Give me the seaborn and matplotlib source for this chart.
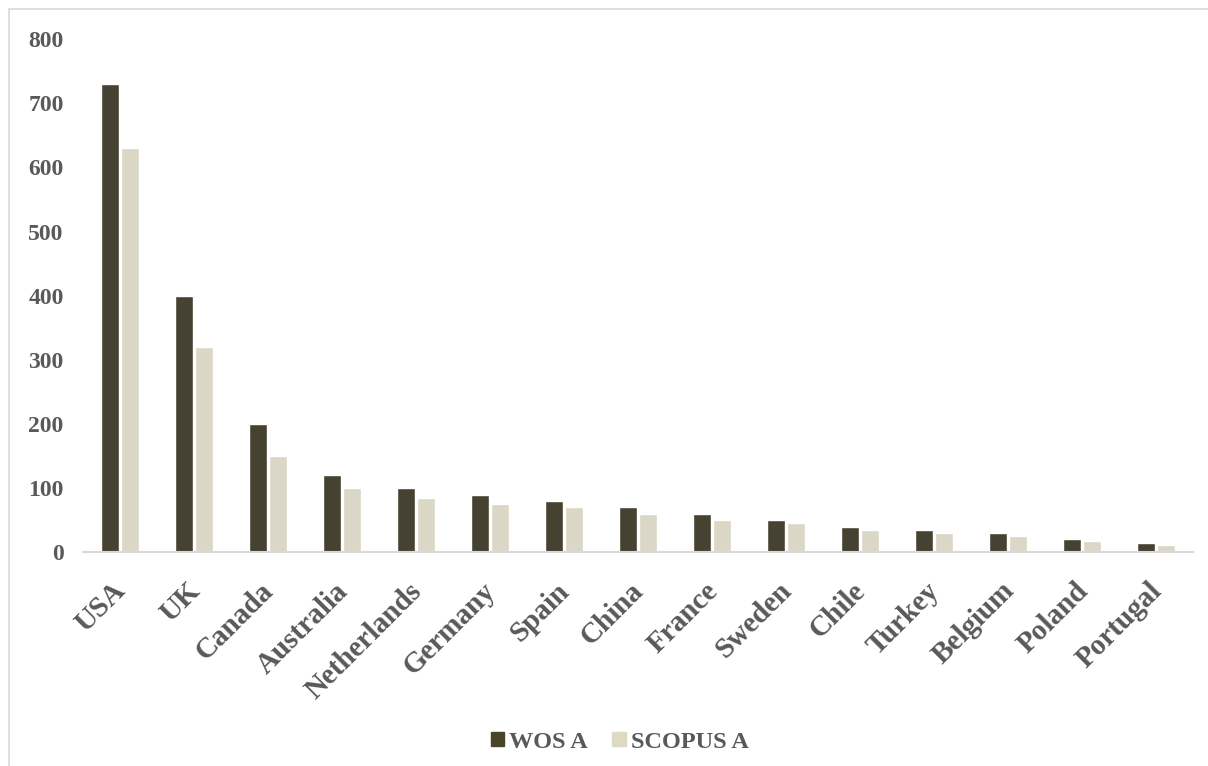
import pandas as pd
import matplotlib.pyplot as plt
import seaborn as sns
from matplotlib.patches import Rectangle
from matplotlib.transforms import ScaledTranslation

countries = ["USA", "UK", "Canada", "Australia", "Netherlands", "Germany", "Spain",
             "China", "France", "Sweden", "Chile", "Turkey", "Belgium", "Poland", "Portugal"]
wos_a = [730, 400, 200, 120, 100, 90, 80, 70, 60, 50, 40, 35, 30, 20, 15]
scopus_a = [630, 320, 150, 100, 85, 75, 70, 60, 50, 45, 35, 30, 25, 17, 11]
y_ticks = [0, 100, 200, 300, 400, 500, 600, 700, 800]

# long format for seaborn
df = pd.DataFrame({
    "country": countries * 2,
    "count": wos_a + scopus_a,
    "source": ["WOS A"] * len(countries) + ["SCOPUS A"] * len(countries),
})

sns.set_style("white")
plt.rcParams["font.family"] = ["Liberation Serif", "DejaVu Serif"]
plt.rcParams["font.weight"] = "bold"

text_col = "#595959"
palette = {"WOS A": "#4A442D", "SCOPUS A": "#DDD9C3"}

fig = plt.figure(figsize=(12.08, 7.66), dpi=100)
ax = fig.add_axes([0.0687, 0.279, 0.919, 0.670])

sns.barplot(data=df, x="country", y="count", hue="source", palette=palette,
            width=0.54, gap=0.12, ax=ax, legend=False)

ax.set_ylim(0, 800)
ax.set_yticks(y_ticks)
ax.set_xlim(-0.5, len(countries) - 0.5)
ax.set_xlabel("")
ax.set_ylabel("")
ax.tick_params(axis="y", labelsize=17, colors=text_col, length=0, pad=14)
ax.tick_params(axis="x", labelsize=21, colors=text_col, length=0, pad=18)
# nudge rotated labels so their ends sit just right of the group centre
shift = ScaledTranslation(-8 / 100, 0, fig.dpi_scale_trans)
for lbl in ax.get_xticklabels():
    lbl.set_rotation(45)
    lbl.set_ha("right")
    lbl.set_va("top")
    lbl.set_rotation_mode("anchor")
    lbl.set_fontweight("bold")
    lbl.set_transform(lbl.get_transform() + shift)
plt.setp(ax.get_yticklabels(), fontweight="bold")

for s in ["top", "right", "left"]:
    ax.spines[s].set_visible(False)
ax.spines["bottom"].set_color("#D9D9D9")
ax.spines["bottom"].set_linewidth(1.5)

handles = [Rectangle((0, 0), 1, 1, color=palette[k]) for k in ["WOS A", "SCOPUS A"]]
fig.legend(handles, ["WOS A", "SCOPUS A"], loc="lower center", bbox_to_anchor=(0.513, -0.011),
           ncol=2, frameon=False, handlelength=0.55, handleheight=0.55, handletextpad=0.2,
           columnspacing=1.0, prop={"size": 17.5, "weight": "bold"}, labelcolor=text_col)

# thin border around the chart area
fig.patches.append(Rectangle((0.0075, -0.01), 1.0, 0.998, transform=fig.transFigure,
                             fill=False, edgecolor="#D9D9D9", linewidth=1.2))

fig.savefig("out.png", dpi=100)
